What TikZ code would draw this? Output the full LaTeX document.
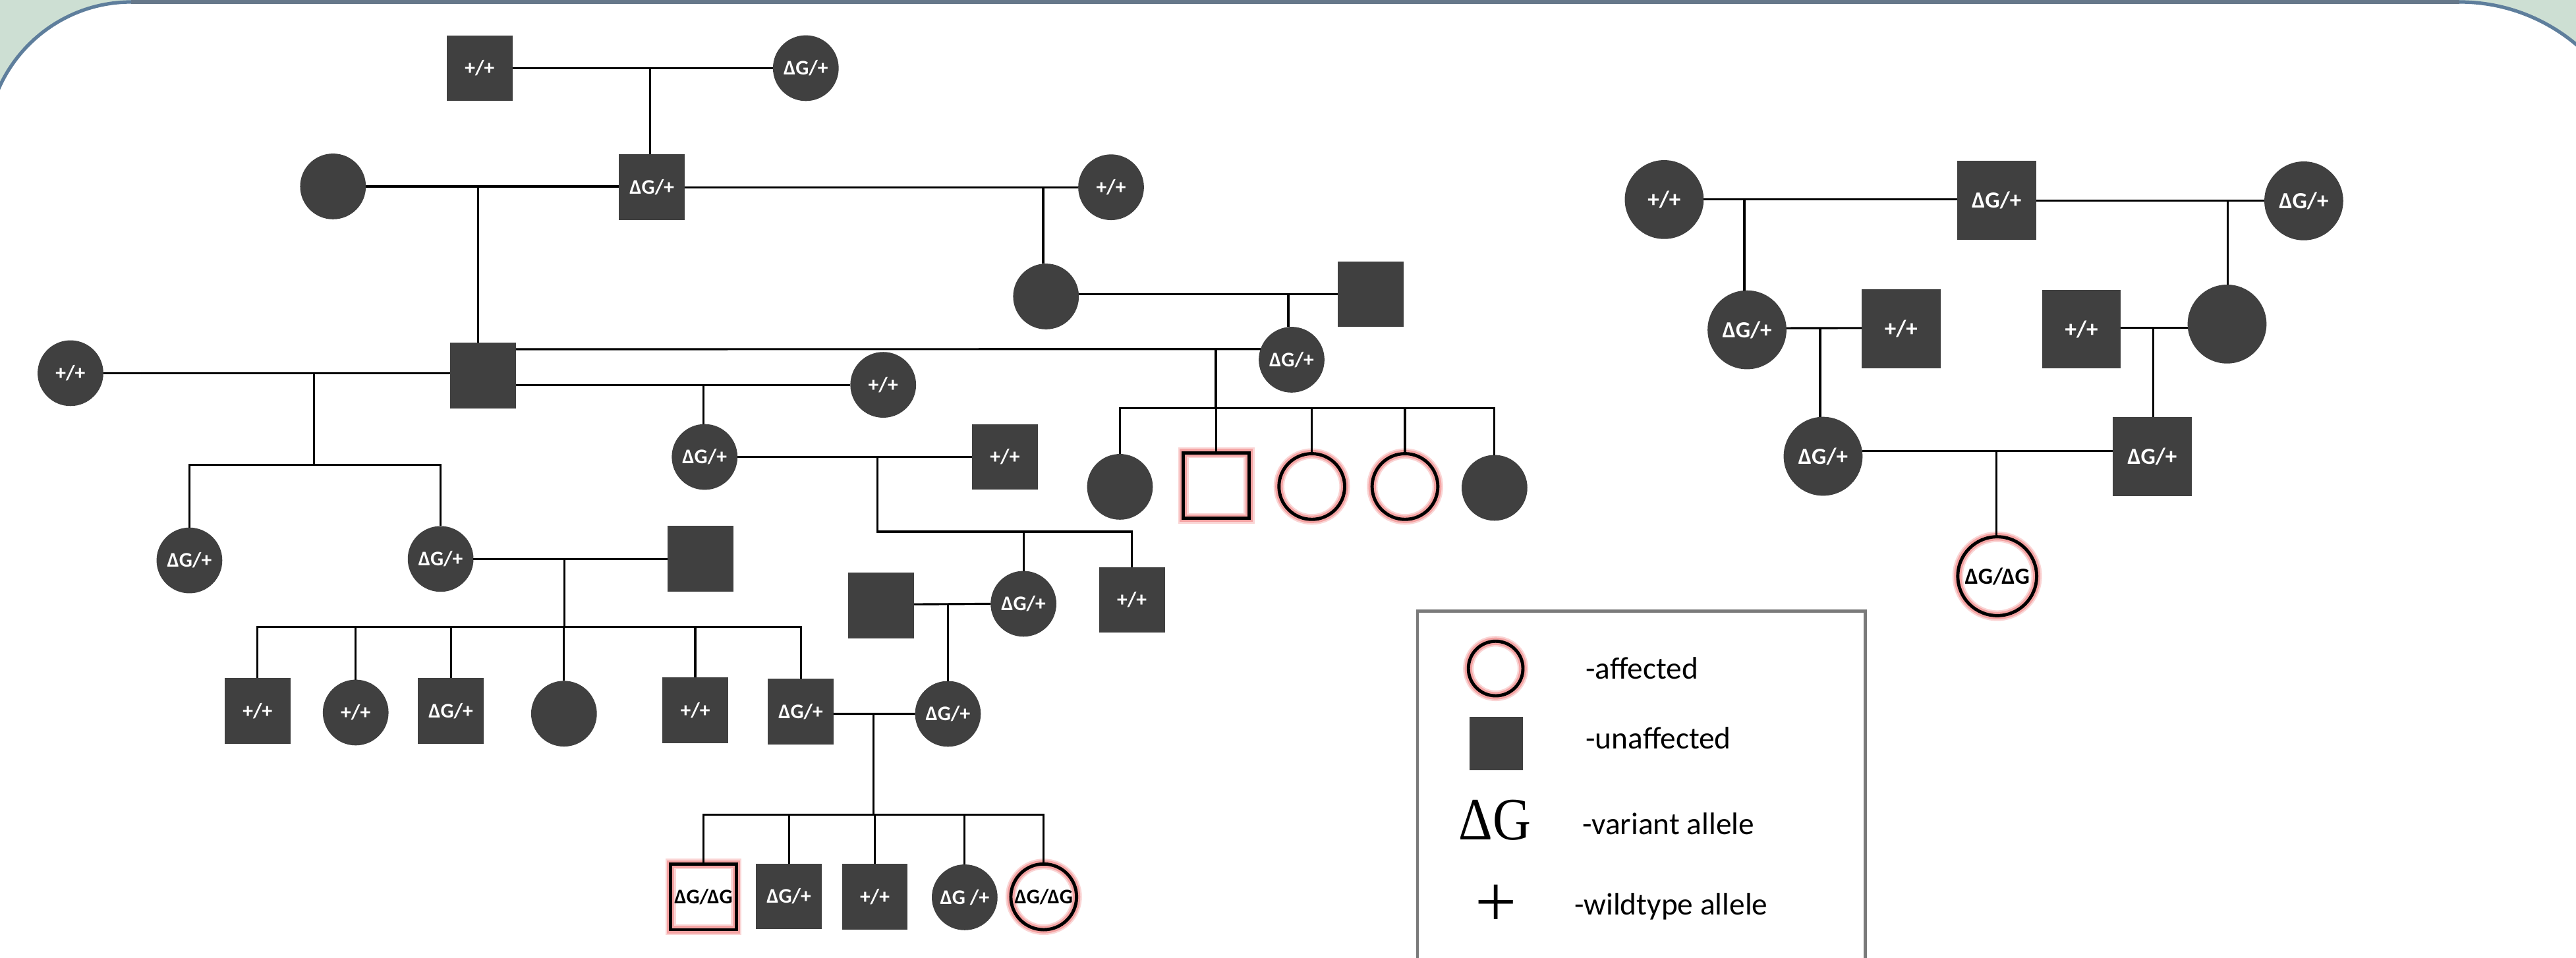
\documentclass[tikz,border=0pt]{standalone}
\usepackage{fontspec}
\setmainfont{Carlito}
\newfontfamily\legserif{Liberation Serif}
\usetikzlibrary{calc}
\definecolor{ngray}{HTML}{404040}
\definecolor{bggreen}{HTML}{CDDFD3}
\definecolor{panelborder}{HTML}{5E7E9C}
\definecolor{topband}{HTML}{66788A}
\definecolor{glow}{HTML}{F4A3A3}
\definecolor{legborder}{HTML}{7A7A7A}
\begin{document}
\begin{tikzpicture}[x=0.025cm, y=-0.025cm,
  lab/.style={font=\fontsize{9}{10}\selectfont\bfseries},
  base/.style={inner sep=0pt, outer sep=0pt, text=white, lab},
  sq/.style={base, rectangle, fill=ngray, minimum size=1cm},
  ci/.style={base, circle, fill=ngray, minimum size=1cm},
  big/.style={minimum size=1.2cm, font=\fontsize{10}{11}\selectfont\bfseries},
  aff/.style={fill=white, text=black,
    postaction={draw=glow, draw opacity=0.45, line width=4.6pt},
    postaction={draw=glow, line width=3.2pt},
    postaction={draw=black, line width=1.4pt}},
  ln/.style={draw=black, line width=0.9pt},
  legtext/.style={anchor=base west, inner sep=0pt, font=\fontsize{13.5}{15}\selectfont}
]
\useasboundingbox (0,0) rectangle (1568,583);
\clip (0,0) rectangle (1568,583);
% background and panel
\fill[bggreen] (0,0) rectangle (1568,583);
\path[fill=white, draw=panelborder, line width=1.5pt] (-8.2,600) -- (-8.2,89.4)
  .. controls (-8.2,40.7) and (31.3,1.2) .. (80,1.2) -- (1497,1.2)
  .. controls (1558.1,1.2) and (1607.6,50.7) .. (1607.6,111.8) -- (1607.6,600) -- cycle;
\fill[topband] (80,0) rectangle (1497,2.4);

% ---------- main pedigree ----------
% Gen I
\node[sq] (A) at (292,41.5) {+/+};
\node[ci] (B) at (490.5,41.5) {ΔG/+};
\draw[ln] (A) -- (B);
\coordinate (mAB) at (395.8,41.5);
% Gen II
\node[sq] (C) at (396.8,114) {ΔG/+};
\draw[ln] (mAB) -- (mAB |- C.north);
\node[ci] (D) at (202.7,113.5) {};
\draw[ln] (D) -- (D -| C.west);
\node[ci] (E) at (676.3,114) {+/+};
\draw[ln] (C) -- (E);
\coordinate (mDC) at (291,113.5);
\coordinate (mCE) at (635,114);
\node[ci] (F) at (636.7,180.5) {};
\draw[ln] (mCE) -- (mCE |- F.north);
\node[sq] (F2) at (834.4,179.1) {};
\draw[ln] ($(F.east)+(0,-1.5)$) -- ($(F2.west)+(0,-0.1)$);
\coordinate (mF) at (784.2,179);
\node[ci] (S) at (786.2,219) {ΔG/+};
\draw[ln] (mF) -- (mF |- S.north);
% Gen III
\node[sq] (G) at (294,228.5) {};
\draw[ln] (mDC) -- (mDC |- G.north);
\node[ci] (H) at (42.9,227.2) {+/+};
\draw[ln] (H) -- (H -| G.west);
\coordinate (mHG) at (191.3,227.2);
\coordinate (sbH) at (191.3,283);
\node[ci] (K1) at (115.3,341.2) {ΔG/+};
\node[ci] (K2) at (268.2,340.3) {ΔG/+};
\draw[ln] (mHG) -- (sbH);
\draw[ln] (K1.north) -- (K1.north |- sbH) -- (K2.north |- sbH) -- (K2.north);

\draw[ln] ($(G.east)+(0,-15.9)$) -- (S.161);
\coordinate (mGS) at (740.1,212.6);
\coordinate (sbS) at (740.1,248.4);
\node[ci] (L1) at (681.7,296.4) {};
\node[sq,aff] (L2) at (740.3,295.6) {};
\node[ci,aff] (L3) at (798.5,296.2) {};
\node[ci,aff] (L4) at (855.2,296.2) {};
\node[ci] (L5) at (909.7,297) {};
\draw[ln] (mGS) -- (sbS);
\draw[ln] (L1.north) -- (L1.north |- sbS) -- (L5.north |- sbS) -- (L5.north);
\foreach \n in {L2,L3,L4} \draw[ln] (\n.north |- sbS) -- (\n.north);

\node[ci] (T) at (537.6,234.3) {+/+};
\draw[ln] ($(G.east)+(0,5.8)$) -- (T.west);
\coordinate (mGT) at (428.1,234.3);
% Gen IV
\node[ci] (U) at (428.9,278.2) {ΔG/+};
\draw[ln] (mGT) -- (mGT |- U.north);
\node[sq] (V) at (611.7,278.2) {+/+};
\draw[ln] (U) -- (V);
\coordinate (mUV) at (534.2,278.2);
\coordinate (sbU) at (534.2,323.7);
\node[ci] (W) at (623,367.6) {ΔG/+};
\node[sq] (X) at (689,365.2) {+/+};
\draw[ln] (mUV) -- (sbU) -- (sbU -| X.north) -- (X.north);
\draw[ln] (W.north |- sbU) -- (W.north);

\node[sq] (Y) at (426.4,340.3) {};
\draw[ln] (K2) -- (K2 -| Y.west);
\coordinate (mKY) at (343.6,340.3);
\coordinate (sbK) at (343.6,381.8);
\node[sq] (Z1) at (156.8,432.9) {+/+};
\node[ci] (Z2) at (216.5,433.8) {+/+};
\node[sq] (Z3) at (274.4,432.9) {ΔG/+};
\node[ci] (Z4) at (343.3,434.5) {};
\node[sq] (Z5) at (423.2,432.4) {+/+};
\node[sq] (Z6) at (487.4,433.3) {ΔG/+};
\draw[ln] (mKY) -- (sbK);
\draw[ln] (Z1.north) -- (Z1.north |- sbK) -- (Z6.north |- sbK) -- (Z6.north);
\foreach \n in {Z2,Z3,Z4,Z5} \draw[ln] (\n.north |- sbK) -- (\n.north);

\node[sq] (Q) at (536.3,368.5) {};
\draw[ln] ($(Q.east)+(0,-0.6)$) -- (W.west);
\coordinate (mQW) at (577,368);
% Gen V
\node[ci] (R) at (577,434.6) {ΔG/+};
\draw[ln] (mQW) -- (mQW |- R.north);
\draw[ln] ($(Z6.east)+(0,1.3)$) -- (R.west);
\coordinate (mZR) at (531.6,434.6);
\coordinate (sbZ) at (531.6,496);
\node[sq,aff] (P1) at (428.2,546) {ΔG/ΔG};
\node[sq] (P2) at (480.2,545.7) {ΔG/+};
\node[sq] (P3) at (532.5,546) {+/+};
\node[ci] (P4) at (587.2,546.3) {ΔG /+};
\node[ci,aff] (P5) at (635.3,546) {ΔG/ΔG};
\draw[ln] (mZR) -- (sbZ);
\draw[ln] (P1.north) -- (P1.north |- sbZ) -- (P5.north |- sbZ) -- (P5.north);
\foreach \n in {P2,P3,P4} \draw[ln] (\n.north |- sbZ) -- (\n.north);

% ---------- right pedigree ----------
\node[ci,big] (RA) at (1013,121.5) {+/+};
\node[sq,big] (RB) at (1215.3,122) {ΔG/+};
\node[ci,big] (RC) at (1402.3,122.3) {ΔG/+};
\draw[ln] (RA) -- (RA -| RB.west);
\draw[ln] (RB) -- (RB -| RC.west);
\coordinate (rm1) at (1061.8,122);
\coordinate (rm2) at (1355.9,122);
\node[ci,big] (RD) at (1063.4,200.8) {ΔG/+};
\node[sq,big] (RF) at (1157.2,200.2) {+/+};
\node[sq,big] (RG) at (1267,200.4) {+/+};
\node[ci,big] (RE) at (1355.6,197.3) {};
\draw[ln] (rm1) -- (rm1 |- RD.north);
\draw[ln] (rm2) -- (rm2 |- RE.north);
\draw[ln] ($(RD.east)+(0,-1)$) -- ($(RF.west)+(0,-0.5)$);
\draw[ln] ($(RG.east)+(0,-0.8)$) -- ($(RE.west)+(0,2.3)$);
\coordinate (rm3) at (1107.9,199.7);
\coordinate (rm4) at (1310.5,199.7);
\node[ci,big] (RH) at (1109.7,277.8) {ΔG/+};
\node[sq,big] (RI) at (1310,278) {ΔG/+};
\draw[ln] (rm3) -- (rm3 |- RH.north);
\draw[ln] (rm4) -- (rm4 |- RI.north);
\draw[ln] ($(RH.east)+(0,-3.3)$) -- ($(RI.west)+(0,-3.5)$);
\coordinate (rm5) at (1215.3,274.5);
\node[ci,big,aff] (RJ) at (1215.7,350.8) {ΔG/ΔG};
\draw[ln] (rm5) -- (rm5 |- RJ.north);

% ---------- legend ----------
\draw[legborder, line width=1.4pt] (862.8,371.9) rectangle (1135.3,600);
\node[ci,aff,minimum size=0.83cm] (LA) at (910.4,407) {};
\node[sq,minimum size=0.815cm] (LB) at (910.8,452.8) {};
\node[anchor=base, inner sep=0pt, font=\legserif\fontsize{26}{28}\selectfont] (LC) at (909.9,511.3) {\scalebox{0.88}[1]{ΔG}};
\node[inner sep=0pt, font=\legserif\fontsize{32}{34}\selectfont] (LD) at (910.7,551.5) {+};
\node[legtext] (t1) at (965,413.4) {-affected};
\node[legtext] (t2) at (965,455.8) {-unaffected};
\node[legtext] (t3) at (963,508) {-variant allele};
\node[legtext] (t4) at (958,557) {-wildtype allele};
\end{tikzpicture}
\end{document}
